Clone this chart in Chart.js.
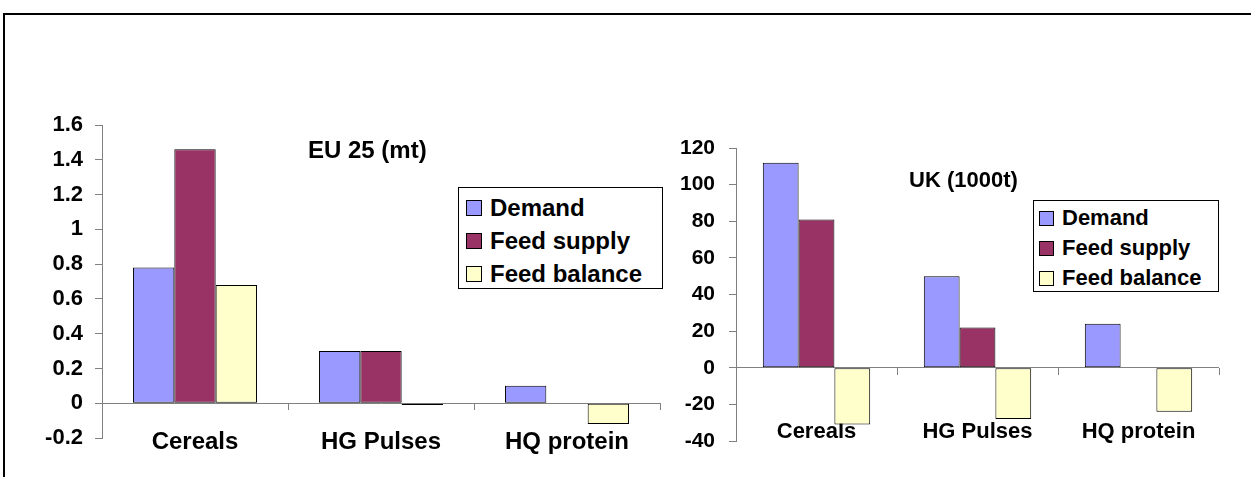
<!DOCTYPE html>
<html>
<head>
<meta charset="utf-8">
<script src="https://cdn.jsdelivr.net/npm/chart.js@4.4.1/dist/chart.umd.min.js"></script>
<style>
  body { margin: 0; width: 1251px; height: 477px; overflow: hidden; background: #fff; position: relative;
         font-family: 'Liberation Sans', Arial, sans-serif; }
  #frame { position: absolute; left: 3px; top: 13px; width: 1260px; height: 480px;
           border-top: 2px solid #000; border-left: 2px solid #000; }
  .panel { position: absolute; top: 0; height: 477px; }
  .title { position: absolute; font-weight: bold; white-space: nowrap; line-height: 1; }
  .legend { position: absolute; border: 1px solid #000; background: #fff; font-weight: bold; box-sizing: border-box; }
  .legend .row { display: flex; align-items: center; white-space: nowrap; }
  .legend .sw { display: inline-block; border: 1px solid #000; box-sizing: border-box; flex: none; }
</style>
</head>
<body>
<div id="frame"></div>
<div class="panel" style="left:0;width:668px"><canvas id="euChart"></canvas></div>
<div class="panel" style="left:668px;width:583px"><canvas id="ukChart"></canvas></div>
<div class="title" id="euTitle" style="left:308px;top:138px;font-size:24px">EU 25 (mt)</div>
<div class="title" id="ukTitle" style="left:909px;top:169px;font-size:22px">UK (1000t)</div>
<div class="legend" id="euLegend" style="left:458px;top:187px;width:205px;height:102px;padding:3px 0 0 7px;font-size:24px"></div>
<div class="legend" id="ukLegend" style="left:1033px;top:200px;width:186px;height:92px;padding:2px 0 0 5px;font-size:22px"></div>

<script>
// categories and series
const categories = ['Cereals', 'HG Pulses', 'HQ protein'];
const seriesNames = ['Demand', 'Feed supply', 'Feed balance'];
const seriesColors = ['#9999FF', '#993366', '#FFFFCC'];

// EU 25, million tonnes
const euDemand = [0.78, 0.30, 0.10];
const euSupply = [1.46, 0.30, 0];
const euBalance = [0.68, -0.01, -0.12];
const euTicks = [-0.2, 0, 0.2, 0.4, 0.6, 0.8, 1, 1.2, 1.4, 1.6];

// UK, 1000 t
const ukDemand = [112, 50, 24];
const ukSupply = [81, 22, 0];
const ukBalance = [-31, -28, -24];
const ukTicks = [-40, -20, 0, 20, 40, 60, 80, 100, 120];

Chart.defaults.font.family = "'Liberation Sans', Arial, sans-serif";
Chart.defaults.font.weight = 'bold';
Chart.defaults.color = '#000';

function buildLegend(id, swatch, rowH, gap) {
    const box = document.getElementById(id);
    seriesNames.forEach((name, k) => {
        const row = document.createElement('div');
        row.className = 'row';
        row.style.height = rowH + 'px';
        const sw = document.createElement('span');
        sw.className = 'sw';
        sw.style.width = swatch + 'px';
        sw.style.height = swatch + 'px';
        sw.style.background = seriesColors[k];
        sw.style.marginRight = gap + 'px';
        row.appendChild(sw);
        row.appendChild(document.createTextNode(name));
        box.appendChild(row);
    });
}

function drawPanel(canvasId, values, yTicks, look) {
    const datasets = seriesNames.map((name, k) => ({
        label: name,
        data: values[k],
        backgroundColor: seriesColors[k],
        borderColor: '#000',
        borderWidth: 1,
        borderSkipped: false,
        categoryPercentage: 0.667,
        barPercentage: 1.0
    }));

    return new Chart(document.getElementById(canvasId), {
        type: 'bar',
        data: { labels: categories, datasets: datasets },
        options: {
            responsive: true,
            maintainAspectRatio: false,
            animation: false,
            layout: { padding: { left: 0, top: look.padTop, right: look.padRight, bottom: look.padBottom } },
            scales: {
                // category axis crosses at zero; its labels sit low, near the bottom of the plot
                x: {
                    type: 'category',
                    position: { y: 0 },
                    offset: true,
                    z: 1,
                    grid: { offset: true, drawOnChartArea: false, drawTicks: true, tickLength: 7, color: '#808080' },
                    border: { display: false },
                    ticks: { font: { size: look.catSize }, padding: look.catPad, maxRotation: 0, autoSkip: false },
                    afterFit: s => { s.height = 0; }
                },
                y: {
                    min: yTicks[0],
                    max: yTicks[yTicks.length - 1],
                    afterBuildTicks: s => { s.ticks = yTicks.map(v => ({ value: v })); },
                    grid: {
                        color: c => (c.tick && c.tick.value === 0) ? '#808080' : 'rgba(0,0,0,0)',
                        tickColor: '#808080',
                        tickLength: 7
                    },
                    border: { display: true, color: '#808080' },
                    ticks: { font: { size: look.tickSize }, padding: look.tickPad, callback: v => String(v) },
                    afterFit: s => { s.width = look.areaLeft; }
                }
            },
            plugins: {
                legend: { display: false },
                tooltip: { enabled: false }
            }
        }
    });
}

drawPanel('euChart', [euDemand, euSupply, euBalance], euTicks,
    { padTop: 125, padRight: 8, padBottom: 39, areaLeft: 102, catSize: 24, catPad: 18, tickSize: 22, tickPad: 12 });
drawPanel('ukChart', [ukDemand, ukSupply, ukBalance], ukTicks,
    { padTop: 148, padRight: 32, padBottom: 36, areaLeft: 68, catSize: 22, catPad: 44, tickSize: 21, tickPad: 14 });

buildLegend('euLegend', 16, 33, 8);
buildLegend('ukLegend', 15, 30, 8);
</script>
</body>
</html>
